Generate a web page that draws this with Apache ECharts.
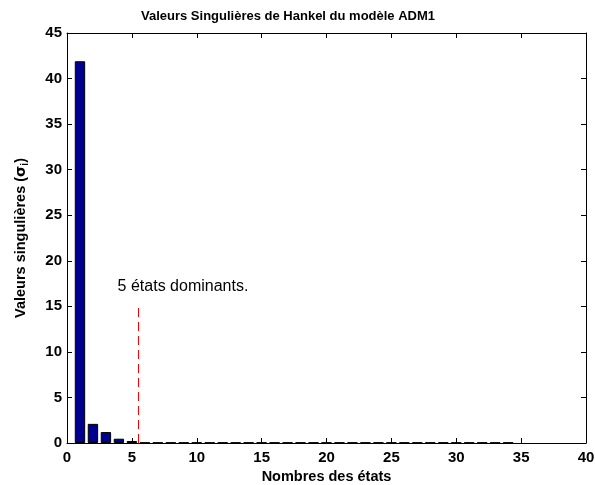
<!DOCTYPE html>
<html>
<head>
<meta charset="utf-8">
<script src="https://cdn.jsdelivr.net/npm/echarts@6/dist/echarts.min.js"></script>
<style>html,body{margin:0;padding:0;background:#fff}#c{width:595px;height:485px}</style>
</head>
<body>
<div id="c"></div>
<script>
const titleText = 'Valeurs Singulières de Hankel du modèle ADM1';
const xName = 'Nombres des états';
const states = [1,2,3,4,5,6,7,8,9,10,11,12,13,14,15,16,17,18,19,20,21,22,23,24,25,26,27,28,29,30,31,32,33,34];
const sigma = [41.9,2.1,1.2,0.47,0.22,0.05,0.05,0.05,0.05,0.05,0.05,0.05,0.05,0.05,0.05,0.05,0.05,0.05,0.05,0.05,0.05,0.05,0.05,0.05,0.05,0.05,0.05,0.05,0.05,0.05,0.05,0.05,0.05,0.05];
const cutoffX = 5.5;
const cutoffTop = 15;
const annotation = '5 états dominants.';
const annotationPos = [3.9, 17.2];
const xTicks = [0, 40, 5];
const yTicks = [0, 45, 5];

const chart = echarts.init(document.getElementById('c'));
const F = 'Liberation Sans, Arial, sans-serif';
const lbl = {fontFamily: F, fontSize: 15, fontWeight: 'bold', color: '#000'};
const line = {show: true, onZero: false, lineStyle: {color: '#000', width: 1}};
const tick = {inside: true, length: 5, lineStyle: {color: '#000'}};
chart.setOption({
  animation: false,
  title: {text: titleText, left: 136, top: 5, textStyle: {fontFamily: F, fontSize: 13, fontWeight: 'bold', color: '#000'}},
  grid: {left: 67, right: 9, top: 33, bottom: 42, containLabel: false, outerBoundsMode: 'none'},
  xAxis: [{
    type: 'value', min: xTicks[0], max: xTicks[1], interval: xTicks[2],
    name: xName, nameLocation: 'middle', nameGap: 25,
    nameTextStyle: {fontFamily: F, fontSize: 14.5, fontWeight: 'bold', color: '#000'},
    axisLine: line, axisTick: tick,
    axisLabel: Object.assign({margin: 7}, lbl),
    splitLine: {show: false}
  }, {
    type: 'value', position: 'top', min: xTicks[0], max: xTicks[1], interval: xTicks[2],
    axisLine: line, axisTick: tick,
    axisLabel: {show: false}, splitLine: {show: false}
  }],
  yAxis: [{
    type: 'value', min: yTicks[0], max: yTicks[1], interval: yTicks[2],
    name: 'Valeurs singulières ({g|σ}{sub|i})', nameLocation: 'middle', nameGap: 37, nameRotate: 90,
    nameTextStyle: {fontFamily: F, fontSize: 14.5, fontWeight: 'bold', color: '#000',
      rich: {g: {fontFamily: 'DejaVu Sans', fontSize: 14.5, color: '#000'}, sub: {fontFamily: F, fontSize: 10, fontWeight: 'bold', color: '#000', verticalAlign: 'bottom', padding: [8,0,0,0]}}},
    axisLine: line, axisTick: tick,
    axisLabel: Object.assign({margin: 5}, lbl),
    splitLine: {show: false}
  }, {
    type: 'value', position: 'right', min: yTicks[0], max: yTicks[1], interval: yTicks[2],
    axisLine: line, axisTick: tick,
    axisLabel: {show: false}, splitLine: {show: false}
  }],
  series: [{
    type: 'bar',
    data: states.map((s, i) => [s, sigma[i]]),
    barWidth: '80%',
    itemStyle: {color: '#00008F', borderColor: '#000', borderWidth: 1},
    markLine: {
      silent: true, symbol: 'none', label: {show: false},
      lineStyle: {color: '#FF0000', type: [9, 5], width: 1, opacity: 1},
      emphasis: {disabled: true},
      data: [[{coord: [cutoffX, 0]}, {coord: [cutoffX, cutoffTop]}]]
    },
    markPoint: {
      silent: true, symbol: 'circle', symbolSize: 0,
      label: {show: true, position: 'right', distance: 0, formatter: annotation, fontFamily: F, fontSize: 16, color: '#000'},
      data: [{coord: annotationPos}]
    }
  }]
});
</script>
</body>
</html>
